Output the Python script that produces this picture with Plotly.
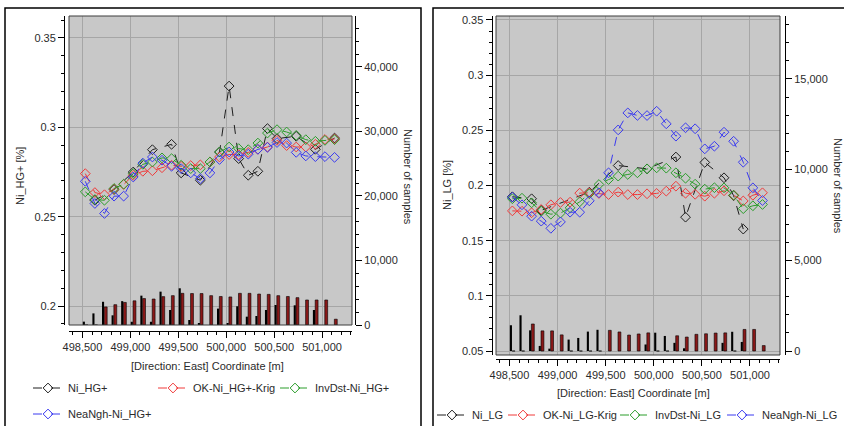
import plotly.graph_objects as go

# ---- Swath positions (east coordinate of each swath centre, m) ----
east_m = [498530, 498630, 498730, 498830, 498930, 499030, 499130, 499230, 499330,
          499430, 499530, 499630, 499730, 499830, 499930, 500030, 500130, 500230,
          500330, 500430, 500530, 500630, 500730, 500830, 500930, 501030, 501130]

# ---- Ni_HG+ domain: mean grades per swath [%] ----
hg_samples = [None, 0.2592, None, 0.2652, None, 0.2750, None, 0.2875, None, 0.2905,
              0.2745, None, 0.2704, None, 0.2862, 0.3231, 0.2825, 0.2732, 0.2754,
              0.2993, 0.2937, None, 0.2950, None, 0.2877, None, 0.2940]
hg_ok = [0.2741, 0.2635, 0.2623, 0.2655, 0.2680, 0.2732, 0.2754, 0.2757, 0.2774,
         0.2788, 0.2782, 0.2786, 0.2790, 0.2806, 0.2834, 0.2848, 0.2847, 0.2860,
         0.2877, 0.2890, 0.2927, 0.2898, 0.2890, 0.2890, 0.2905, 0.2932, 0.2935]
hg_invdst = [0.2639, 0.2596, 0.2592, 0.2658, 0.2682, 0.2741, 0.2793, 0.2806, 0.2829,
             0.2825, 0.2788, 0.2769, 0.2769, 0.2806, 0.2862, 0.2890, 0.2881, 0.2875,
             0.2912, 0.2968, 0.2987, 0.2974, 0.2955, 0.2931, 0.2922, 0.2927, 0.2931]
hg_neangh = [0.2698, 0.2574, 0.2518, 0.2615, 0.2615, 0.2722, 0.2800, 0.2834, 0.2816,
             0.2782, 0.2769, 0.2745, 0.2713, 0.2745, 0.2820, 0.2862, 0.2840, 0.2850,
             0.2877, 0.2888, 0.2915, 0.2912, 0.2860, 0.2840, 0.2836, 0.2836, 0.2832]
# number of samples per swath (two counts per swath)
hg_count_a = [520, 1800, 3600, 1500, 3700, 500, 4550, 500, 5170, 2330, 5690, 780, 260,
              0, 2540, 260, 2900, 1290, 1400, 2330, 3100, 0, 3050, 0, 2330, 0, 0]
hg_count_b = [0, 0, 2800, 3150, 3500, 3750, 4100, 4030, 4400, 4550, 4910, 4880, 4880,
              4550, 4420, 4350, 4910, 4910, 4800, 4750, 4550, 4420, 4240, 3880, 3880,
              3880, 900]

# ---- Ni_LG domain: mean grades per swath [%] ----
lg_samples = [0.1898, None, 0.1880, 0.1775, None, None, None, None, 0.1939, None,
              None, 0.2181, None, None, 0.2151, None, None, 0.2258, 0.1713, None,
              0.2209, None, 0.2070, 0.1908, 0.1605, None, None]
lg_ok = [0.1770, 0.1767, 0.1753, 0.1783, 0.1825, 0.1846, 0.1849, 0.1931, 0.1934,
         0.1928, 0.1918, 0.1940, 0.1918, 0.1918, 0.1925, 0.1928, 0.1949, 0.1994,
         0.1930, 0.1920, 0.1903, 0.1930, 0.1952, 0.1912, 0.1860, 0.1912, 0.1934]
lg_invdst = [0.1880, 0.1885, 0.1843, 0.1767, 0.1740, 0.1750, 0.1798, 0.1852, 0.1925,
             0.2009, 0.2054, 0.2085, 0.2100, 0.2115, 0.2150, 0.2160, 0.2157, 0.2115,
             0.2066, 0.2012, 0.1967, 0.1980, 0.1979, 0.1912, 0.1790, 0.1816, 0.1828]
lg_neangh = [0.1894, 0.1825, 0.1722, 0.1677, 0.1612, 0.1670, 0.1758, 0.1758, 0.1861,
             0.1934, 0.2115, 0.2504, 0.2658, 0.2635, 0.2634, 0.2673, 0.2559, 0.2447,
             0.2523, 0.2514, 0.2332, 0.2356, 0.2483, 0.2401, 0.2211, 0.1979, 0.1864]
lg_count_a = [1420, 1970, 1140, 280, 130, 0, 630, 720, 1070, 1170, 0, 0, 0, 0, 360,
              1010, 830, 450, 150, 0, 0, 0, 450, 1060, 500, 0, 0]
lg_count_b = [0, 0, 1490, 1110, 1110, 890, 0, 0, 0, 0, 1140, 1050, 880, 940, 1000, 0,
              0, 840, 770, 920, 950, 990, 1000, 0, 1190, 1190, 300]

hg_names = ["Ni_HG+", "OK-Ni_HG+-Krig", "InvDst-Ni_HG+", "NeaNgh-Ni_HG+"]
lg_names = ["Ni_LG", "OK-Ni_LG-Krig", "InvDst-Ni_LG", "NeaNgh-Ni_LG"]

W, H = 844, 426
FONT = "Liberation Sans"
TXT = "#2b2b2b"
BG = "#c8c8c8"
GRID = "#a6a6a6"
COLORS = ["#1e1e1e", "#f03a3a", "#2a9d2a", "#3a3af0"]
BAR_A = "#000000"
BAR_B = "#8a1818"


def px(v):
    return v / W


def py(v):
    return 1 - v / H


fig = go.Figure()

# sample-count bars (secondary axes)
for xa, ya, ca, cb in [("x", "y2", hg_count_a, hg_count_b),
                       ("x2", "y4", lg_count_a, lg_count_b)]:
    fig.add_trace(go.Bar(x=east_m, y=ca, xaxis=xa, yaxis=ya, width=22, offset=-26,
                         marker=dict(color=BAR_A, line=dict(width=0)),
                         showlegend=False, hoverinfo="skip"))
    fig.add_trace(go.Bar(x=east_m, y=cb, xaxis=xa, yaxis=ya, width=30, offset=-2,
                         marker=dict(color=BAR_B, line=dict(color="#000000", width=0.6)),
                         showlegend=False, hoverinfo="skip"))

# grade profiles; every legend entry gets its own legend box
hg_series = [hg_samples, hg_ok, hg_invdst, hg_neangh]
lg_series = [lg_samples, lg_ok, lg_invdst, lg_neangh]
legend_ids = ["legend", "legend2", "legend3", "legend4",
              "legend5", "legend6", "legend7", "legend8"]
for k in range(4):
    fig.add_trace(go.Scatter(
        x=east_m, y=hg_series[k], name=hg_names[k], xaxis="x", yaxis="y",
        mode="lines+markers", connectgaps=True,
        line=dict(color=COLORS[k], width=1, dash="dash"),
        marker=dict(symbol="diamond-open", size=7.5, color=COLORS[k], line=dict(width=1)),
        legend=legend_ids[k]))
for k in range(4):
    fig.add_trace(go.Scatter(
        x=east_m, y=lg_series[k], name=lg_names[k], xaxis="x2", yaxis="y3",
        mode="lines+markers", connectgaps=True,
        line=dict(color=COLORS[k], width=1, dash="dash"),
        marker=dict(symbol="diamond-open", size=7.5, color=COLORS[k], line=dict(width=1)),
        legend=legend_ids[4 + k]))

tickfont = dict(family=FONT, size=11, color=TXT)


def xaxis(domain, pos):
    return dict(domain=domain, anchor="free", position=pos, range=[498360, 501312],
                tick0=498500, dtick=500, tickformat=",d", ticks="outside", ticklen=6,
                tickcolor="#000000", showline=True, linecolor="#000000", linewidth=1,
                showgrid=True, gridcolor=GRID, gridwidth=1, zeroline=False,
                tickfont=tickfont,
                minor=dict(dtick=100, ticks="outside", ticklen=3, tickcolor="#000000",
                           showgrid=False))


def yaxis(domain, pos, rng, dtick, mdtick, side="left", overlay=None, grid=True, fmt=None):
    d = dict(domain=domain, anchor="free", position=pos, range=rng, side=side,
             dtick=dtick, tick0=0, ticks="outside", ticklen=6, tickcolor="#000000",
             showline=True, linecolor="#000000", linewidth=1,
             showgrid=grid, gridcolor=GRID, gridwidth=1, zeroline=False,
             tickfont=tickfont,
             minor=dict(dtick=mdtick, ticks="outside", ticklen=3, tickcolor="#000000",
                        showgrid=False))
    if overlay:
        d["overlaying"] = overlay
    if fmt:
        d["tickformat"] = fmt
    return d


left_x = [px(69), px(352)]
right_x = [px(496), px(780)]
left_y = [py(325), py(16)]
right_y = [py(355), py(16)]

legend_font = dict(family=FONT, size=11, color=TXT)
# legend anchors: (left x of entry, row centre y) in pixels
legend_pos = [(28, 388), (153, 388), (275, 388), (28, 414),
              (432, 415), (503, 415), (615, 415), (722, 415)]
legend_layout = {}
for lid, (lx, ly) in zip(legend_ids, legend_pos):
    legend_layout[lid] = dict(orientation="h", x=px(lx), y=py(ly), xanchor="left",
                              yanchor="middle", bgcolor="rgba(0,0,0,0)", itemwidth=30,
                              font=legend_font)

fig.update_layout(
    width=W, height=H, margin=dict(l=0, r=0, t=0, b=0, autoexpand=False),
    paper_bgcolor="#ffffff", plot_bgcolor=BG, barmode="overlay",
    font=dict(family=FONT, size=11, color=TXT),
    xaxis=xaxis(left_x, py(331)),
    xaxis2=xaxis(right_x, py(358.5)),
    yaxis=yaxis(left_y, px(64), [0.1894, 0.3623], 0.05, 0.01),
    yaxis2=yaxis(left_y, px(355), [0, 47900], 10000, 2000, side="right",
                 overlay="y", grid=False, fmt=",d"),
    yaxis3=yaxis(right_y, px(491.5), [0.0464, 0.3536], 0.05, 0.01),
    yaxis4=yaxis(right_y, px(785), [-220, 18470], 5000, 1000, side="right",
                 overlay="y3", grid=False, fmt=",d"),
    **legend_layout,
)

# plot area borders of each panel and the panel frames
shapes = []
for xr, yr in [("x domain", "y domain"), ("x2 domain", "y3 domain")]:
    shapes.append(dict(type="rect", xref=xr, yref=yr, x0=0, x1=1, y0=0, y1=1,
                       line=dict(color="#3c3c3c", width=1), layer="above"))
shapes.append(dict(type="rect", xref="paper", yref="paper", x0=px(5), x1=px(421),
                   y0=-0.1, y1=py(8), line=dict(color="#000000", width=1.5)))
shapes.append(dict(type="rect", xref="paper", yref="paper", x0=px(433), x1=1.1,
                   y0=-0.1, y1=py(8), line=dict(color="#000000", width=1.5)))
fig.update_layout(shapes=shapes)

ann = dict(xref="paper", yref="paper", showarrow=False,
           font=dict(family=FONT, size=11, color=TXT), xanchor="center", yanchor="middle")
fig.update_layout(annotations=[
    dict(ann, text="Ni_HG+ [%]", x=px(20), y=py(176), textangle=-90),
    dict(ann, text="Number of samples", x=px(408), y=py(177), textangle=90),
    dict(ann, text="[Direction: East] Coordinate [m]", x=px(207), y=py(366)),
    dict(ann, text="Ni_LG [%]", x=px(447), y=py(185), textangle=-90),
    dict(ann, text="Number of samples", x=px(838), y=py(186), textangle=90),
    dict(ann, text="[Direction: East] Coordinate [m]", x=px(633), y=py(393)),
])

fig.write_html("out.html")
